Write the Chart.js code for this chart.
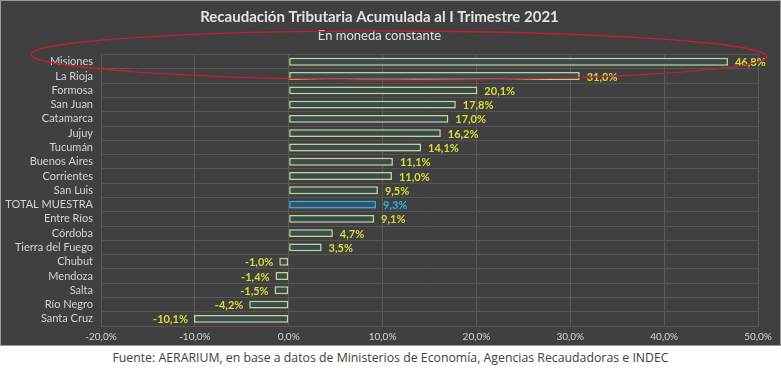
<!DOCTYPE html>
<html>
<head>
<meta charset="utf-8">
<script src="https://cdn.jsdelivr.net/npm/chart.js@4.4.1/dist/chart.umd.min.js"></script>
<style>
  html, body { margin: 0; padding: 0; background: #ffffff; }
  #panel { position: absolute; left: 0; top: 0; width: 779px; height: 344px; background: #404040; border: 1px solid #9a9a9a; }
  #chart { display: block; }
  #fuente { position: absolute; left: 0; top: 349px; width: 781px; text-align: center;
            font-family: "Open Sans", sans-serif; font-size: 12.3px; color: #404040; }
</style>
</head>
<body>
<div id="panel"><canvas id="chart" width="779" height="344"></canvas></div>
<div id="fuente">Fuente: AERARIUM, en base a datos de Ministerios de Economía, Agencias Recaudadoras e INDEC</div>
<script>
// Datos del gráfico
const provincias = ['Misiones', 'La Rioja', 'Formosa', 'San Juan', 'Catamarca', 'Jujuy', 'Tucumán',
    'Buenos Aires', 'Corrientes', 'San Luis', 'TOTAL MUESTRA', 'Entre Ríos', 'Córdoba',
    'Tierra del Fuego', 'Chubut', 'Mendoza', 'Salta', 'Río Negro', 'Santa Cruz'];
const variacion = [46.8, 31.0, 20.1, 17.8, 17.0, 16.2, 14.1, 11.1, 11.0, 9.5, 9.3, 9.1, 4.7, 3.5,
    -1.0, -1.4, -1.5, -4.2, -10.1];
const ejeMin = -20;
const ejeMax = 50;
const ejePaso = 10;

const TOTAL = 'TOTAL MUESTRA';
const fmt = v => v.toFixed(1).replace('.', ',') + '%';

// Resplandor por barra y etiquetas de valor
const barrasPlugin = {
    id: 'barras',
    beforeDatasetDraw(chart, args) {
        const ctx = chart.ctx;
        args.meta.data.forEach((el, i) => {
            const esTotal = provincias[i] === TOTAL;
            ctx.save();
            ctx.shadowColor = esTotal ? 'rgba(50,160,235,0.95)' : 'rgba(120,175,210,0.55)';
            ctx.shadowBlur = esTotal ? 9 : 4;
            el.draw(ctx);
            ctx.restore();
        });
        return false;
    },
    afterDatasetsDraw(chart) {
        const ctx = chart.ctx;
        const meta = chart.getDatasetMeta(0);
        ctx.save();
        ctx.font = 'bold 11px Lato, sans-serif';
        ctx.textBaseline = 'middle';
        meta.data.forEach((el, i) => {
            const v = variacion[i];
            ctx.fillStyle = provincias[i] === TOTAL ? '#2fb2e6' : '#d6de3c';
            if (v >= 0) {
                ctx.textAlign = 'left';
                ctx.fillText(fmt(v), el.x + 7, el.y + 1);
            } else {
                ctx.textAlign = 'right';
                ctx.fillText(fmt(v), el.x - 6, el.y + 1);
            }
        });
        ctx.restore();
    },
    afterDraw(chart) {
        // Óvalo rojo de resaltado
        const ctx = chart.ctx;
        ctx.save();
        ctx.strokeStyle = '#c4202a';
        ctx.lineWidth = 1.3;
        ctx.beginPath();
        ctx.ellipse(398, 54.5, 368, 24.5, 0.003, 0, Math.PI * 2);
        ctx.stroke();
        ctx.restore();
    }
};

new Chart(document.getElementById('chart'), {
    type: 'bar',
    data: {
        labels: provincias,
        datasets: [{
            data: variacion,
            backgroundColor: provincias.map(p => p === TOTAL ? '#3a5260' : '#3d4a50'),
            borderColor: provincias.map(p => p === TOTAL ? '#2fb2e6' : '#cfe07c'),
            borderWidth: 1.5,
            borderSkipped: false,
            barPercentage: 0.55,
            categoryPercentage: 1
        }]
    },
    options: {
        indexAxis: 'y',
        responsive: false,
        animation: false,
        layout: { padding: { left: 0, right: 22, bottom: 0 } },
        plugins: {
            legend: { display: false },
            tooltip: { enabled: false },
            title: {
                display: true,
                text: 'Recaudación Tributaria Acumulada al I Trimestre 2021',
                color: '#e2e2e2',
                font: { family: 'Lato', size: 15, weight: 'bold' },
                padding: { top: 7, bottom: 2 }
            },
            subtitle: {
                display: true,
                text: 'En moneda constante',
                color: '#e2e2e2',
                font: { family: 'Lato', size: 13 },
                padding: { top: 0, bottom: 11 }
            }
        },
        scales: {
            x: {
                min: ejeMin,
                max: ejeMax,
                ticks: {
                    stepSize: ejePaso,
                    color: '#d4d4d4',
                    font: { family: 'Lato', size: 10 },
                    padding: 5,
                    callback: v => fmt(v)
                },
                grid: { color: '#5a5a5a', drawTicks: false },
                border: { display: false },
                afterFit(scale) { scale.height = 19; }
            },
            y: {
                ticks: {
                    color: '#d4d4d4',
                    font: { family: 'Lato', size: 11 },
                    padding: 8,
                    autoSkip: false
                },
                grid: { color: '#555555', drawTicks: false },
                border: { display: false },
                afterFit(scale) { scale.width = 100; }
            }
        }
    },
    plugins: [barrasPlugin]
});
</script>
</body>
</html>
